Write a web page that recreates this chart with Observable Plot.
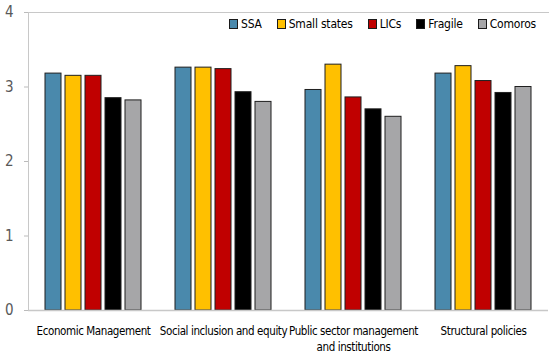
<!DOCTYPE html>
<html>
<head>
<meta charset="utf-8">
<script src="https://cdn.jsdelivr.net/npm/d3@7"></script>
<script src="https://cdn.jsdelivr.net/npm/@observablehq/plot@0.6"></script>
<style>
  html, body { margin: 0; padding: 0; background: #fff; }
  #wrap { position: relative; width: 549px; height: 358px; font-family: "DejaVu Sans Condensed", "DejaVu Sans", sans-serif; font-stretch: condensed; }
  #legend { position: absolute; top: 17px; left: 229px; display: flex; gap: 15px; font-size: 12px; letter-spacing: -0.2px; color: #000; white-space: nowrap; line-height: 14px; }
  #legend .item { display: flex; align-items: center; gap: 3px; }
  #legend .sw { width: 7px; height: 8px; border: 1px solid #1a1a1a; }
  #wrap svg g[aria-label="fx-axis tick label"] text { letter-spacing: -0.4px; }
</style>
</head>
<body>
<div id="wrap"><div id="legend"></div></div>
<script>
const categories = ["Economic Management", "Social inclusion and equity", "Public sector management and institutions", "Structural policies"];
const categoryLabels = ["Economic Management", "Social inclusion and equity", "Public sector management\nand institutions", "Structural policies"];
const series = ["SSA", "Small states", "LICs", "Fragile", "Comoros"];
const colors = ["#4a89ac", "#ffc000", "#c00000", "#000000", "#a6a6a8"];
const SSA        = [3.18, 3.26, 2.96, 3.18];
const smallStates = [3.15, 3.26, 3.30, 3.28];
const LICs       = [3.15, 3.24, 2.86, 3.08];
const fragile    = [2.85, 2.93, 2.70, 2.92];
const comoros    = [2.82, 2.80, 2.60, 3.00];
const yTicks = [0, 1, 2, 3, 4];

const valuesBySeries = [SSA, smallStates, LICs, fragile, comoros];
const data = [];
categories.forEach((c, i) => series.forEach((s, j) => data.push({category: c, series: s, value: valuesBySeries[j][i]})));
const labelOf = new Map(categories.map((c, i) => [c, categoryLabels[i]]));

const chart = Plot.plot({
  width: 549,
  height: 358,
  marginTop: 12,
  marginLeft: 28,
  marginRight: 1,
  marginBottom: 48,
  style: {fontFamily: "'DejaVu Sans Condensed', 'DejaVu Sans', sans-serif", fontStretch: "condensed", background: "#fff"},
  fx: {domain: categories, padding: 0, label: null},
  x: {domain: series, paddingInner: 0.2, paddingOuter: 0.83, axis: null},
  y: {domain: [0, 4], ticks: yTicks, label: null},
  color: {domain: series, range: colors},
  marks: [
    Plot.frame({facet: "super", anchor: "left", stroke: "#c8c8c8"}),
    Plot.frame({facet: "super", anchor: "top", stroke: "#c8c8c8"}),
    Plot.barY(data, {fx: "category", x: "series", y: "value", fill: "series", stroke: "#1f1f1f", strokeWidth: 1}),
    Plot.ruleY([0], {stroke: "#c8c8c8", strokeWidth: 1.5}),
    Plot.axisY({ticks: yTicks, tickFormat: d3.format("d"), tickSize: 4, tickPadding: 11, fontSize: 15, color: "#595959", stroke: "#bbb", label: null}),
    Plot.axisFx({anchor: "bottom", tickSize: 0, tickPadding: 13, fontSize: 11.5, lineHeight: 1.4, label: null, tickFormat: d => labelOf.get(d)})
  ]
});
document.getElementById("wrap").appendChild(chart);

const legend = document.getElementById("legend");
series.forEach((s, j) => {
  const it = document.createElement("div");
  it.className = "item";
  it.innerHTML = `<span class="sw" style="background:${colors[j]}"></span><span>${s}</span>`;
  legend.appendChild(it);
});
</script>
</body>
</html>
